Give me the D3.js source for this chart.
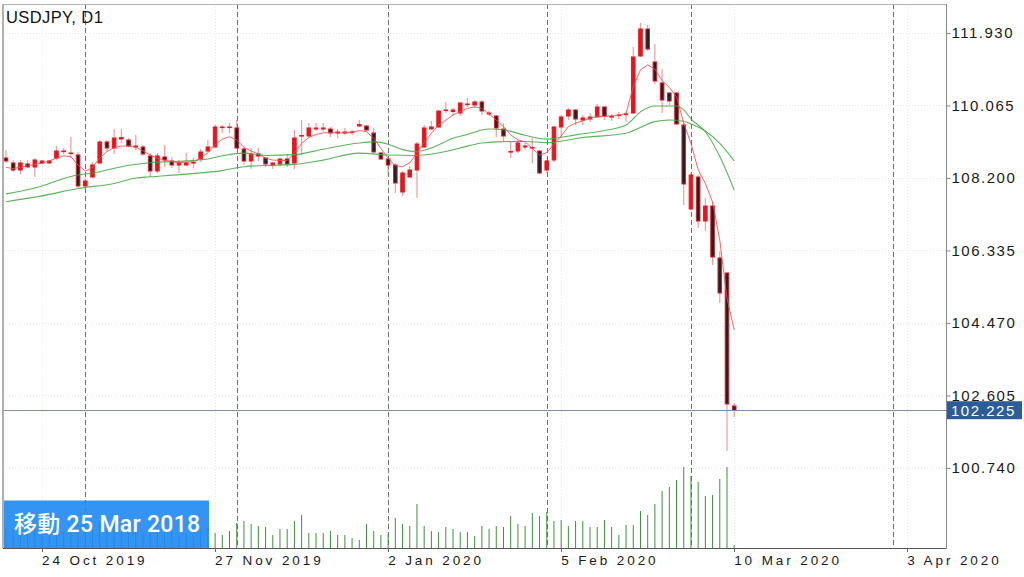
<!DOCTYPE html>
<html><head><meta charset="utf-8">
<script src="https://cdn.jsdelivr.net/npm/d3@7"></script>
<style>
html,body{margin:0;padding:0;background:#fff;}
svg{display:block;}
</style></head><body>
<svg id="chart" width="1024" height="577"></svg>
<script>
// ---------------- data ----------------
const symbolLabel = "USDJPY, D1";
const badgeText = "移動 25 Mar 2018";
const lastPrice = 102.225;

const opens = [
108.714,108.586,108.405,108.560,108.483,108.586,108.586,108.714,108.881,108.830,
108.791,107.994,108.225,108.586,109.126,108.971,109.203,109.177,108.997,108.997,
108.766,108.380,108.740,108.637,108.534,108.534,108.586,108.688,108.894,108.997,
109.499,109.499,109.486,108.946,108.637,108.817,108.714,108.534,108.560,108.688,
108.586,109.280,109.280,109.460,109.460,109.460,109.357,109.357,109.370,109.537,
109.537,109.357,108.843,108.688,108.534,107.839,108.225,108.405,108.997,109.460,
109.512,109.936,109.910,109.872,110.090,110.078,110.155,109.846,109.795,109.460,
108.869,108.894,108.997,108.971,108.894,108.405,108.663,109.512,109.795,109.949,
109.692,109.717,109.769,110.026,109.769,109.807,109.833,109.872,111.338,112.033,
111.184,110.644,110.386,110.386,109.563,107.402,108.225,107.093,107.479,106.141,
105.755,102.334];
const highs = [
108.920,108.663,108.663,108.663,108.714,108.663,108.663,109.023,108.971,109.254,
108.869,108.200,108.611,109.177,109.177,109.460,109.460,109.229,109.306,109.049,
108.843,108.843,109.049,108.740,108.663,108.843,108.714,108.946,109.177,109.563,
109.563,109.615,109.692,108.997,108.971,108.971,108.740,108.611,108.714,108.817,
109.434,109.692,109.615,109.615,109.615,109.512,109.460,109.486,109.434,109.692,
109.563,109.486,108.869,108.740,108.586,108.380,108.508,109.126,109.563,109.666,
109.949,110.155,110.000,110.155,110.258,110.206,110.206,109.923,109.820,109.615,
109.126,109.177,109.100,109.229,108.920,108.663,109.537,109.820,110.000,109.975,
109.820,109.872,110.103,110.052,109.846,109.898,109.898,111.570,112.187,112.136,
111.647,111.004,110.412,110.412,109.615,108.328,108.277,107.685,107.582,106.321,
105.781,102.411];
const lows = [
108.586,108.354,108.302,108.457,108.225,108.560,108.560,108.663,108.817,108.714,
107.942,107.891,108.200,108.560,108.894,108.817,109.100,108.997,108.920,108.766,
108.225,108.328,108.483,108.457,108.328,108.508,108.457,108.611,108.869,108.971,
109.357,109.357,108.946,108.534,108.431,108.637,108.483,108.431,108.508,108.483,
108.431,108.791,109.254,109.409,109.383,109.254,109.229,109.306,109.306,109.512,
109.409,108.817,108.663,108.277,107.814,107.737,108.200,107.685,108.971,109.434,
109.486,109.872,109.820,109.795,110.026,110.000,109.820,109.795,109.254,109.151,
108.714,108.843,108.920,108.586,108.302,108.328,108.611,109.254,109.692,109.563,
109.563,109.640,109.756,109.692,109.666,109.717,109.640,109.846,111.313,111.467,
110.618,109.872,110.078,109.563,107.505,107.376,106.913,106.836,105.961,104.984,
101.176,102.051];
const closes = [
108.637,108.405,108.586,108.483,108.663,108.637,108.637,108.894,108.894,108.843,
107.994,108.122,108.534,109.126,108.971,109.229,109.241,109.023,109.023,108.817,
108.380,108.766,108.663,108.534,108.586,108.586,108.598,108.869,108.997,109.512,
109.512,109.512,108.971,108.637,108.817,108.766,108.560,108.586,108.688,108.560,
109.229,109.293,109.486,109.486,109.486,109.357,109.383,109.383,109.383,109.576,
109.434,108.869,108.688,108.534,108.071,108.328,108.405,109.074,109.486,109.512,
109.923,109.949,109.949,110.129,110.103,110.155,109.923,109.872,109.486,109.280,
108.881,109.100,109.023,108.984,108.328,108.637,109.512,109.769,109.949,109.717,
109.743,109.769,110.026,109.795,109.782,109.820,109.846,111.313,112.033,111.518,
110.695,110.206,110.181,109.589,108.045,108.277,107.093,107.479,106.167,105.241,
102.385,102.225];
// tick volume, thousands
const volumes = [
20,18,22,17,24,15,14,21,16,19,30,26,22,25,18,24,16,15,17,14,22,20,18,16,13,15,12,19,21,
15,13,17,25,27,24,22,21,13,19,19,27,33,15,15,15,17,13,13,10,8,24,17,13,14,30,24,22,44,22,
17,16,21,19,16,16,12,22,19,22,21,32,24,22,35,32,36,27,28,22,27,27,21,21,28,21,13,23,23,37,
33,44,57,61,68,81,72,66,52,53,69,81,3];
// short moving average (red), one value per bar
const maShort = [
108.475,108.44,108.48,108.51,108.55,108.58,108.64,108.71,108.77,108.75,
108.53,108.38,108.47,108.71,108.88,108.98,109.02,109.02,108.99,108.90,
108.79,108.71,108.66,108.62,108.59,108.61,108.62,108.71,108.85,109.05,
109.20,109.26,109.18,108.99,108.89,108.82,108.71,108.66,108.65,108.65,
108.84,109.09,109.24,109.32,109.36,109.37,109.36,109.36,109.38,109.42,
109.39,109.22,108.96,108.71,108.51,108.49,108.59,108.84,109.11,109.35,
109.56,109.69,109.82,109.91,109.99,110.03,109.99,109.85,109.69,109.52,
109.31,109.18,109.13,108.96,108.79,108.85,109.07,109.28,109.52,109.61,
109.67,109.74,109.78,109.78,109.80,109.81,109.86,110.55,110.98,111.11,
111.00,110.70,110.53,110.29,109.61,109.09,108.41,108.06,107.58,106.60,
105.11,104.29];
// medium MA (green) [bar, value]
const maMid = [[0,107.79],[4,107.94],[9,108.24],[13,108.36],[16,108.49],[20,108.59],[25,108.64],[28,108.69],[30,108.77],[33,108.84],[36,108.78],[40,108.80],[44,108.94],[49,109.10],[51,109.13],[53,109.07],[55,108.93],[57,108.88],[59,108.97],[62,109.22],[64,109.32],[67,109.46],[69,109.44],[72,109.30],[75,109.20],[79,109.31],[83,109.42],[86,109.56],[88,109.90],[90,110.05],[93,110.05],[94,109.95],[95,109.72],[97,109.39],[99,108.75],[101,107.89]];
// long MA (green) [bar, value]
const maLong = [[0,107.59],[5,107.74],[10,107.93],[15,108.06],[18,108.20],[20,108.23],[25,108.30],[30,108.39],[33,108.49],[36,108.52],[40,108.55],[44,108.66],[49,108.84],[53,108.79],[57,108.78],[61,108.88],[64,109.02],[66,109.10],[68,109.13],[72,109.14],[75,109.11],[80,109.24],[86,109.35],[88,109.50],[90,109.65],[92,109.69],[94,109.66],[95,109.59],[97,109.41],[99,109.09],[101,108.64]];

const priceTicks = [111.930,110.065,108.200,106.335,104.470,102.605,100.740];
const dateTickBars = [5,29,53,77,101,125];
const dateTickLabels = ["24 Oct 2019","27 Nov 2019","2 Jan 2020","5 Feb 2020","10 Mar 2020","3 Apr 2020"];
const separatorBars = [11,32,53,75,95,123];

// ---------------- layout ----------------
const plot = {left:3, right:946.5, top:4, bottom:548};
const svg = d3.select("#chart");
const x = d3.scaleLinear().domain([0,125]).range([6,907.25]);
const y = d3.scaleLinear().domain([98.68,112.676]).range([plot.bottom, plot.top]);
const v = d3.scaleLinear().domain([0,100]).range([plot.bottom, plot.bottom-100]);
const bars = d3.range(opens.length).map(i=>({i,o:opens[i],h:highs[i],l:lows[i],c:closes[i],vol:volumes[i]}));

svg.append("rect").attr("width",1024).attr("height",577).attr("fill","#fff");
svg.append("clipPath").attr("id","clip").append("rect")
  .attr("x",plot.left).attr("y",plot.top).attr("width",plot.right-plot.left).attr("height",plot.bottom-plot.top);
const g = svg.append("g").attr("clip-path","url(#clip)");

// faint grid
g.selectAll(".hg").data(priceTicks).join("line")
  .attr("x1",plot.left).attr("x2",plot.right)
  .attr("y1",d=>Math.round(y(d))+0.5).attr("y2",d=>Math.round(y(d))+0.5)
  .attr("stroke","#e6e6e6").attr("stroke-dasharray","1,2");
g.selectAll(".vg").data(dateTickBars).join("line")
  .attr("x1",d=>Math.round(x(d))+0.5).attr("x2",d=>Math.round(x(d))+0.5)
  .attr("y1",plot.top).attr("y2",plot.bottom)
  .attr("stroke","#e6e6e6").attr("stroke-dasharray","1,2");

// period separators
g.selectAll(".sep").data(separatorBars).join("line")
  .attr("x1",d=>Math.round(x(d))+0.5).attr("x2",d=>Math.round(x(d))+0.5)
  .attr("y1",plot.top).attr("y2",plot.bottom)
  .attr("stroke","#6e6e6e").attr("stroke-dasharray","5,3");

// volumes
g.selectAll(".vol").data(bars).join("line")
  .attr("x1",d=>x(d.i)).attr("x2",d=>x(d.i))
  .attr("y1",v(0)).attr("y2",d=>v(d.vol))
  .attr("stroke","#3f8f3f").attr("stroke-width",1);

// candles
const bw = 3.6;
g.selectAll(".wick").data(bars).join("line")
  .attr("x1",d=>x(d.i)).attr("x2",d=>x(d.i))
  .attr("y1",d=>y(d.h)).attr("y2",d=>y(d.l))
  .attr("stroke","#e85a5a").attr("stroke-opacity",0.6).attr("stroke-width",1.2);
g.selectAll(".body").data(bars).join("rect")
  .attr("x",d=>x(d.i)-bw/2).attr("width",bw)
  .attr("y",d=>y(Math.max(d.o,d.c)))
  .attr("height",d=>Math.max(0.6,Math.abs(y(d.o)-y(d.c))))
  .attr("fill",d=>d.c>=d.o?"#e8141c":"#16262a")
  .attr("stroke","#e8181e").attr("stroke-width",1);

// moving averages
const lineIdx = d3.line().x((d,i)=>x(i)).y(d=>y(d));
const linePts = d3.line().x(d=>x(d[0])).y(d=>y(d[1])).curve(d3.curveMonotoneX);
g.append("path").datum(maLong).attr("d",linePts).attr("fill","none")
  .attr("stroke","#3da83d").attr("stroke-width",1.1).attr("stroke-opacity",0.85);
g.append("path").datum(maMid).attr("d",linePts).attr("fill","none")
  .attr("stroke","#3da83d").attr("stroke-width",1.1).attr("stroke-opacity",0.85);
g.append("path").datum(maShort).attr("d",lineIdx).attr("fill","none")
  .attr("stroke","#f24a4a").attr("stroke-width",1).attr("stroke-opacity",0.85);

// current price line
g.append("line").attr("x1",plot.left).attr("x2",plot.right)
  .attr("y1",Math.round(y(lastPrice))+0.5).attr("y2",Math.round(y(lastPrice))+0.5)
  .attr("stroke","#7d8cab").attr("stroke-width",1);

// frame
svg.append("line").attr("x1",plot.left).attr("x2",plot.left).attr("y1",plot.top).attr("y2",plot.bottom)
  .attr("stroke","#9c9c9c").attr("stroke-width",1.6);
svg.append("line").attr("x1",plot.left).attr("x2",plot.right).attr("y1",plot.top+0.5).attr("y2",plot.top+0.5)
  .attr("stroke","#b0b0b0").attr("stroke-width",1);

// right price axis
const yAxis = d3.axisRight(y).tickValues(priceTicks).tickFormat(d3.format(".3f")).tickSize(4).tickPadding(1);
const ya = svg.append("g").attr("transform",`translate(${plot.right},0)`).call(yAxis);
ya.select(".domain").attr("stroke","#888").attr("d",`M0,${plot.top}V${plot.bottom}`);
ya.selectAll(".tick line").attr("stroke","#888");
ya.selectAll("text").attr("font-family","'Liberation Sans',Arial,sans-serif").attr("font-size",15)
  .attr("fill","#1a1a1a").style("letter-spacing","1.5px");

// bottom time axis
const xa = svg.append("g");
xa.append("line").attr("x1",plot.left).attr("x2",plot.right).attr("y1",plot.bottom+0.5).attr("y2",plot.bottom+0.5)
  .attr("stroke","#555").attr("stroke-width",1);
xa.selectAll(".xt").data(dateTickBars).join("line")
  .attr("x1",d=>Math.round(x(d))+0.5).attr("x2",d=>Math.round(x(d))+0.5)
  .attr("y1",plot.bottom).attr("y2",plot.bottom+4).attr("stroke","#666");
xa.selectAll(".xl").data(dateTickBars).join("text")
  .attr("x",d=>x(d)).attr("y",565)
  .attr("font-family","'Liberation Sans',Arial,sans-serif").attr("font-size",13.5)
  .attr("fill","#1a1a1a").style("letter-spacing","2.9px")
  .text((d,i)=>dateTickLabels[i]);

// price badge
const py = y(lastPrice);
svg.append("rect").attr("x",947).attr("y",py-9).attr("width",75).attr("height",18).attr("fill","#2d5d98");
svg.append("text").attr("x",951).attr("y",py+5.5).attr("font-family","'Liberation Sans',Arial,sans-serif")
  .attr("font-size",15).attr("fill","#fff").style("letter-spacing","1.5px").text(d3.format(".3f")(lastPrice));

// title
svg.append("text").attr("x",6).attr("y",23).attr("font-family","'Liberation Sans',Arial,sans-serif")
  .attr("font-size",16.5).attr("fill","#111").style("letter-spacing","0.4px").text(symbolLabel);

// scroll badge
svg.append("rect").attr("x",4).attr("y",500.5).attr("width",205).attr("height",47.5)
  .attr("fill","#1e88f2").attr("fill-opacity",0.9);
svg.append("text").attr("x",14).attr("y",532).attr("font-family","Roboto,'Noto Sans CJK JP',sans-serif")
  .attr("font-weight",500).attr("font-size",23).attr("fill","#fff").style("letter-spacing","0.3px").text(badgeText);
</script>
</body></html>
